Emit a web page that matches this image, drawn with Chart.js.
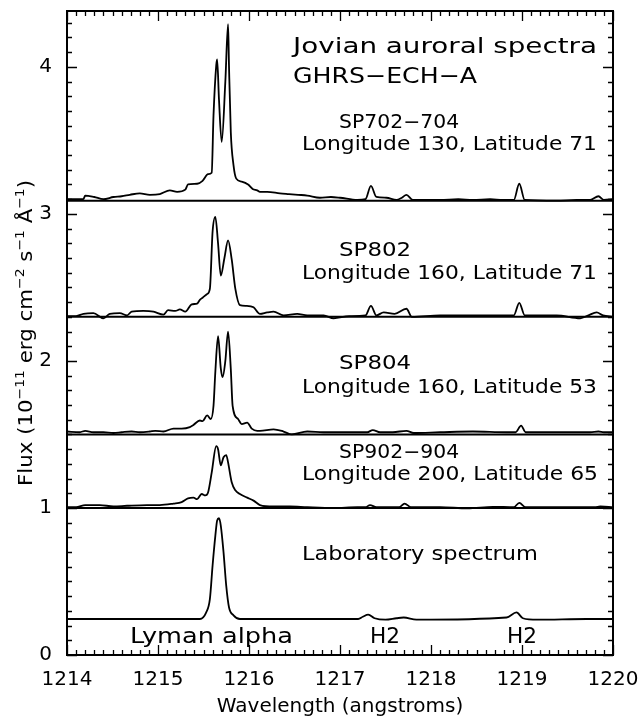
<!DOCTYPE html>
<html>
<head>
<meta charset="utf-8">
<script src="https://cdn.jsdelivr.net/npm/chart.js@4.4.1/dist/chart.umd.min.js"></script>
<style>
  html, body { margin: 0; padding: 0; background: #fff; }
  #c { display: block; }
</style>
</head>
<body>
<canvas id="c" width="639" height="719"></canvas>
<script>
// ---------------- DATA ----------------
const xTickValues = [1214, 1215, 1216, 1217, 1218, 1219, 1220];
const yTickValues = [0, 1, 2, 3, 4];

const sp702Wave = [1214.00,1214.10,1214.18,1214.20,1214.30,1214.40,1214.51,1214.60,1214.69,1214.80,1214.91,1215.02,1215.13,1215.21,1215.30,1215.33,1215.43,1215.49,1215.55,1215.59,1215.61,1215.64,1215.65,1215.67,1215.70,1215.74,1215.77,1215.78,1215.80,1215.83,1215.86,1215.92,1215.99,1216.04,1216.09,1216.12,1216.20,1216.34,1216.44,1216.54,1216.64,1216.78,1216.90,1217.00,1217.19,1217.28,1217.34,1217.40,1217.51,1217.62,1217.68,1217.73,1217.80,1218.10,1218.30,1218.46,1218.65,1218.79,1218.91,1218.97,1219.03,1219.38,1219.60,1219.75,1219.84,1219.90,1220.00];
const sp702Flux = [3.10,3.10,3.10,3.125,3.115,3.10,3.115,3.12,3.13,3.14,3.13,3.135,3.16,3.15,3.165,3.20,3.205,3.225,3.27,3.28,3.67,4.01,4.05,3.78,3.49,3.90,4.29,4.01,3.555,3.33,3.24,3.22,3.20,3.17,3.16,3.15,3.15,3.14,3.135,3.13,3.125,3.11,3.115,3.11,3.095,3.10,3.19,3.115,3.11,3.095,3.11,3.13,3.095,3.095,3.10,3.095,3.10,3.095,3.095,3.205,3.095,3.09,3.095,3.095,3.12,3.095,3.10];

const sp802Wave = [1214.00,1214.10,1214.18,1214.29,1214.40,1214.47,1214.58,1214.66,1214.71,1214.84,1214.95,1215.06,1215.11,1215.19,1215.24,1215.30,1215.37,1215.43,1215.46,1215.49,1215.54,1215.57,1215.60,1215.63,1215.66,1215.69,1215.73,1215.77,1215.81,1215.85,1215.90,1215.97,1216.05,1216.12,1216.20,1216.27,1216.38,1216.53,1216.64,1216.82,1216.93,1217.10,1217.28,1217.34,1217.40,1217.48,1217.60,1217.73,1217.79,1218.10,1218.46,1218.83,1218.91,1218.97,1219.03,1219.38,1219.64,1219.73,1219.82,1219.89,1220.00];
const sp802Flux = [2.305,2.305,2.32,2.325,2.29,2.32,2.325,2.31,2.335,2.34,2.335,2.315,2.345,2.34,2.35,2.335,2.385,2.39,2.415,2.43,2.455,2.49,2.88,2.98,2.80,2.58,2.70,2.82,2.69,2.49,2.38,2.375,2.365,2.32,2.33,2.335,2.31,2.32,2.31,2.31,2.29,2.305,2.31,2.375,2.31,2.33,2.32,2.355,2.30,2.31,2.31,2.31,2.31,2.395,2.31,2.31,2.29,2.31,2.33,2.31,2.30];

const sp804Wave = [1214.00,1214.14,1214.20,1214.29,1214.40,1214.51,1214.60,1214.71,1214.80,1214.91,1214.97,1215.06,1215.17,1215.26,1215.35,1215.39,1215.46,1215.49,1215.54,1215.58,1215.61,1215.63,1215.66,1215.69,1215.71,1215.74,1215.77,1215.80,1215.82,1215.88,1215.92,1215.98,1216.03,1216.09,1216.12,1216.27,1216.38,1216.47,1216.64,1216.82,1217.11,1217.30,1217.36,1217.44,1217.58,1217.73,1217.81,1218.10,1218.46,1218.83,1218.93,1218.99,1219.04,1219.38,1219.75,1219.84,1219.90,1220.00];
const sp804Flux = [1.52,1.515,1.525,1.515,1.515,1.51,1.515,1.52,1.515,1.52,1.525,1.52,1.54,1.54,1.55,1.565,1.595,1.59,1.63,1.605,1.695,1.925,2.168,1.95,1.89,2.00,2.20,1.945,1.695,1.605,1.57,1.58,1.54,1.525,1.525,1.535,1.52,1.50,1.52,1.515,1.515,1.515,1.53,1.515,1.515,1.525,1.51,1.515,1.52,1.515,1.515,1.56,1.515,1.515,1.515,1.52,1.515,1.515];

const sp902Wave = [1214.00,1214.10,1214.20,1214.36,1214.51,1214.66,1214.88,1215.02,1215.17,1215.26,1215.33,1215.39,1215.43,1215.48,1215.52,1215.55,1215.59,1215.64,1215.66,1215.69,1215.72,1215.75,1215.77,1215.81,1215.85,1215.90,1215.98,1216.05,1216.12,1216.27,1216.45,1216.64,1216.93,1217.19,1217.28,1217.33,1217.40,1217.65,1217.71,1217.78,1218.10,1218.40,1218.68,1218.91,1218.97,1219.04,1219.50,1219.80,1219.86,1220.00];
const sp902Flux = [1.005,1.005,1.02,1.02,1.01,1.015,1.02,1.02,1.03,1.04,1.065,1.07,1.06,1.095,1.085,1.105,1.24,1.42,1.40,1.29,1.345,1.36,1.31,1.175,1.12,1.095,1.07,1.05,1.02,1.01,1.01,1.005,1.00,1.005,1.005,1.02,1.005,1.005,1.03,1.005,1.005,0.998,1.008,1.005,1.035,1.005,1.005,1.005,1.01,1.005];

const labWave = [1214.00,1215.46,1215.53,1215.57,1215.60,1215.63,1215.65,1215.67,1215.69,1215.72,1215.75,1215.78,1215.83,1215.90,1217.20,1217.25,1217.31,1217.38,1217.50,1217.62,1217.70,1217.84,1218.83,1218.94,1219.01,1219.17,1219.71,1220.00];
const labFlux = [0.245,0.245,0.29,0.38,0.61,0.81,0.915,0.93,0.88,0.70,0.47,0.325,0.27,0.245,0.245,0.26,0.275,0.25,0.24,0.25,0.255,0.24,0.255,0.29,0.25,0.24,0.245,0.245];

const separatorLevels = [3.09, 2.30, 1.50, 1.00];

const annotationTexts = [
  'Jovian auroral spectra', 'GHRS\u2212ECH\u2212A',
  'SP702\u2212704', 'Longitude 130, Latitude 71',
  'SP802', 'Longitude 160, Latitude 71',
  'SP804', 'Longitude 160, Latitude 53',
  'SP902\u2212904', 'Longitude 200, Latitude 65',
  'Laboratory spectrum',
  'Lyman alpha', 'H2', 'H2'
];
const xTitle = 'Wavelength (angstroms)';
const yTitleParts = [['Flux (10', false], ['\u221211', true], [' erg cm', false], ['\u22122', true], [' s', false], ['\u22121', true], [' \u00C5', false], ['\u22121', true], [')', false]];

// ---------------- LAYOUT (data-space anchors, font sizes, target widths) ----------------
const annotationLayout = [
  {x: 1216.484, y: 4.094, size: 22, w: 304},
  {x: 1216.484, y: 3.890, size: 22, w: 184},
  {x: 1216.99, y: 3.584, size: 19, w: 120},
  {x: 1216.582, y: 3.435, size: 19, w: 295},
  {x: 1216.99, y: 2.714, size: 19, w: 72},
  {x: 1216.582, y: 2.557, size: 19, w: 295},
  {x: 1216.99, y: 1.945, size: 19, w: 72},
  {x: 1216.582, y: 1.782, size: 19, w: 295},
  {x: 1216.99, y: 1.340, size: 19, w: 120},
  {x: 1216.582, y: 1.190, size: 19, w: 296},
  {x: 1216.582, y: 0.646, size: 20, w: 236},
  {x: 1214.692, y: 0.082, size: 21, w: 163},
  {x: 1217.330, y: 0.082, size: 21, w: 30},
  {x: 1218.835, y: 0.082, size: 21, w: 30}
];
const FONT = '"DejaVu Sans", "Liberation Sans", sans-serif';

const zip = (xs, ys) => xs.map((v, i) => ({x: v, y: ys[i]}));

const datasets = [
  {data: zip(sp702Wave, sp702Flux)},
  {data: zip(sp802Wave, sp802Flux)},
  {data: zip(sp804Wave, sp804Flux)},
  {data: zip(sp902Wave, sp902Flux)},
  {data: zip(labWave, labFlux)}
].map(d => Object.assign({borderColor: '#000', borderWidth: 1.8, pointRadius: 0, fill: false,
                          cubicInterpolationMode: 'monotone'}, d));

separatorLevels.forEach(lv => {
  datasets.push({data: [{x: xTickValues[0], y: lv}, {x: xTickValues[xTickValues.length - 1], y: lv}],
    borderColor: '#000', borderWidth: 2, pointRadius: 0, fill: false});
});

const noPad = s => { s.paddingLeft = 0; s.paddingRight = 0; s.paddingTop = 0; s.paddingBottom = 0; };

const framePlugin = {
  id: 'frameTicks',
  afterDraw(chart) {
    const {ctx, chartArea: {left, right, top, bottom}, scales: {x, y}} = chart;
    ctx.save();
    ctx.strokeStyle = '#000';
    ctx.lineWidth = 1.3;
    ctx.beginPath();
    for (let i = 0; i <= 60; i++) {
      const v = 1214 + i * 0.1;
      const px = Math.round(x.getPixelForValue(v)) + 0.5;
      const len = (i % 10 === 0) ? 10 : 5;
      ctx.moveTo(px, bottom); ctx.lineTo(px, bottom - len);
      ctx.moveTo(px, top); ctx.lineTo(px, top + len);
    }
    for (let i = 0; i <= 43; i++) {
      const v = i * 0.1;
      const py = Math.round(y.getPixelForValue(v)) + 0.5;
      const len = (i % 10 === 0) ? 10 : 5;
      ctx.moveTo(left, py); ctx.lineTo(left + len, py);
      ctx.moveTo(right, py); ctx.lineTo(right - len, py);
    }
    ctx.stroke();
    ctx.lineWidth = 2;
    ctx.strokeRect(left, top, right - left, bottom - top);

    ctx.fillStyle = '#000';
    ctx.textAlign = 'left';
    ctx.textBaseline = 'alphabetic';
    annotationTexts.forEach((t, i) => {
      const L = annotationLayout[i];
      ctx.font = L.size + 'px ' + FONT;
      const w = ctx.measureText(t).width;
      ctx.save();
      ctx.translate(x.getPixelForValue(L.x), y.getPixelForValue(L.y));
      ctx.scale(L.w / w, 1);
      ctx.fillText(t, 0, 0);
      ctx.restore();
    });

    const mainSize = 20, supSize = 13, supRise = 8, targetLen = 306;
    let total = 0;
    const widths = yTitleParts.map(([s, sup]) => {
      ctx.font = (sup ? supSize : mainSize) + 'px ' + FONT;
      const w = ctx.measureText(s).width;
      total += w;
      return w;
    });
    ctx.save();
    ctx.translate(32, (top + bottom) / 2);
    ctx.rotate(-Math.PI / 2);
    ctx.scale(targetLen / total, 1);
    let cx = -total / 2;
    yTitleParts.forEach(([s, sup], i) => {
      ctx.font = (sup ? supSize : mainSize) + 'px ' + FONT;
      ctx.fillText(s, cx, sup ? -supRise : 0);
      cx += widths[i];
    });
    ctx.restore();
    ctx.restore();
  }
};

new Chart(document.getElementById('c'), {
  type: 'line',
  data: {datasets},
  options: {
    responsive: false,
    animation: false,
    layout: {padding: {top: 11, right: 26, left: 0, bottom: 0}},
    plugins: {legend: {display: false}, tooltip: {enabled: false}},
    scales: {
      x: {
        type: 'linear', min: xTickValues[0], max: xTickValues[xTickValues.length - 1],
        afterFit(s) { s.height = 64; noPad(s); },
        afterBuildTicks(s) { s.ticks = xTickValues.map(v => ({value: v})); },
        grid: {display: false}, border: {display: false},
        ticks: {padding: 5, color: '#000', font: {size: 20, family: FONT}, maxRotation: 0, autoSkip: false,
                callback: v => String(v)},
        title: {display: true, text: xTitle, color: '#000', font: {size: 20, family: FONT}, padding: {top: 0, bottom: 0}}
      },
      y: {
        type: 'linear', min: 0, max: 4.38,
        afterFit(s) { s.width = 67; noPad(s); },
        afterBuildTicks(s) { s.ticks = yTickValues.map(v => ({value: v})); },
        grid: {display: false}, border: {display: false},
        ticks: {padding: 7, color: '#000', font: {size: 20, family: FONT}, callback: v => String(v)}
      }
    }
  },
  plugins: [framePlugin]
});
</script>
</body>
</html>
